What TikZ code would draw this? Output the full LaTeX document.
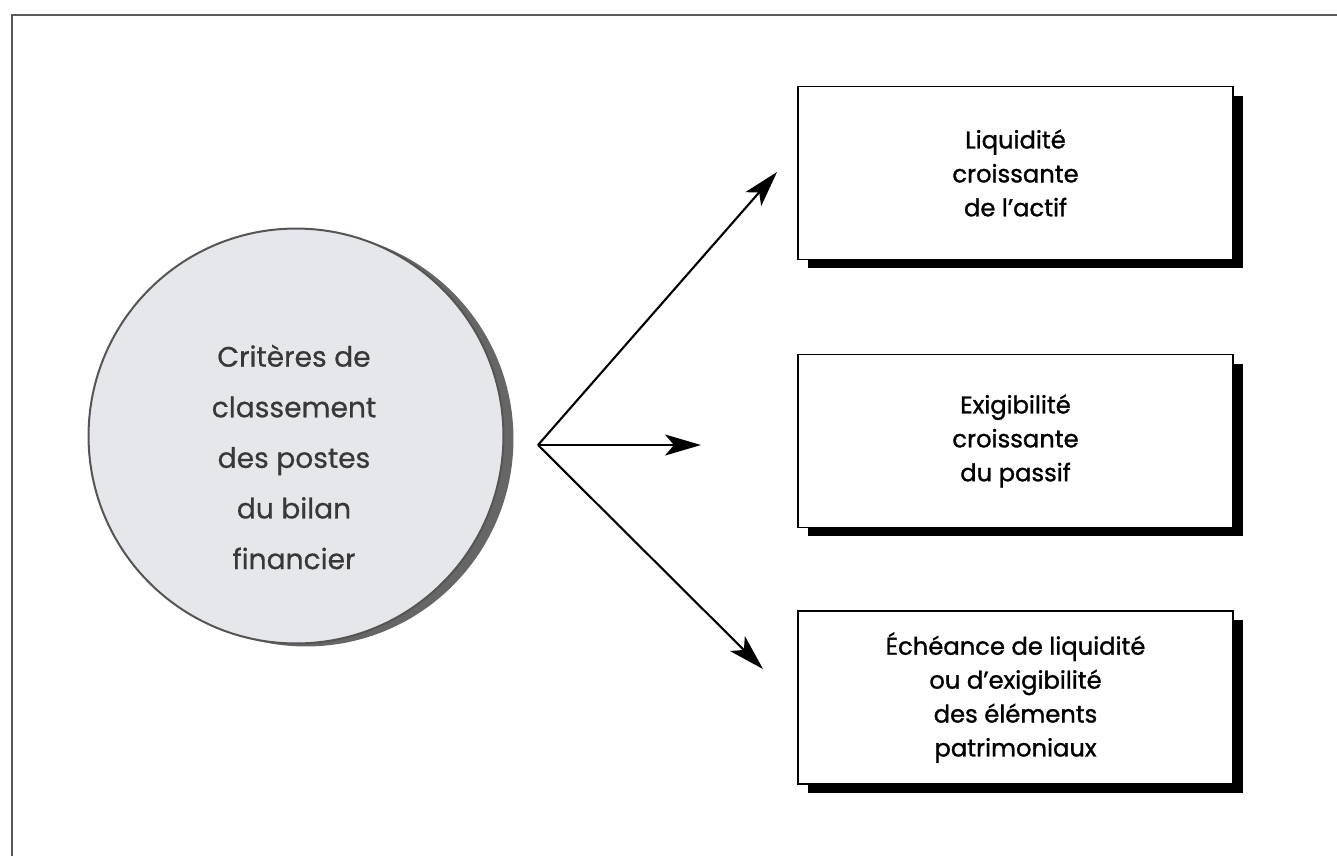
\documentclass[tikz,border=0pt]{standalone}
\usepackage{fontspec}
\setmainfont{Poppins}
\newfontfamily\boxfont{Poppins}[FakeBold=1.2]
\newfontfamily\circfont{Poppins}[FakeBold=0.6]
\usetikzlibrary{arrows.meta,shadows}
\definecolor{framegray}{HTML}{5A5A5A}
\definecolor{circfill}{HTML}{E5E7EA}
\definecolor{circline}{HTML}{555555}
\definecolor{circshadow}{HTML}{666666}
\definecolor{circtext}{HTML}{383838}
\tikzset{
  framel/.style={draw=framegray, line width=0.055cm},
  circ/.style={circle, minimum size=8.3cm, inner sep=0pt, fill=circfill, draw=circline, line width=0.04cm,
    drop shadow={shadow xshift=0.2cm, shadow yshift=-0.06cm, fill=circshadow, opacity=1}},
  circtxt/.style={align=center, text=circtext, font=\circfont\fontsize{16}{28.8}\selectfont, inner sep=0pt},
  catbox/.style={rectangle, draw=black, fill=white, line width=0.035cm, minimum width=8.7cm, minimum height=3.46cm,
    align=center, inner sep=0pt, font=\boxfont\fontsize{13.8}{19.3}\selectfont,
    drop shadow={shadow xshift=0.2cm, shadow yshift=-0.18cm, fill=black, opacity=1}},
  arr/.style={draw=black, line width=0.042cm, -{Stealth[length=0.72cm, width=0.42cm, inset=0.18cm]}}
}
\begin{document}
\begin{tikzpicture}[x=0.02cm, y=-0.02cm]
\useasboundingbox[fill=white] (0,0) rectangle (1337,856);
\draw[framel] (12,856) -- (12,15) -- (1337,15);
\node[circ] (crit) at (296,436) {};
\node[circtxt] (crittxt) at (294,457) {Critères de\\classement\\des postes\\du bilan\\financier};
\node[catbox] (liq) at (1015.5,173) {Liquidité\\croissante\\de l’actif};
\node[catbox] (exi) at (1015.5,441) {Exigibilité\\croissante\\du passif};
\node[catbox] (ech) at (1015.5,697.5) {Échéance de liquidité\\ou d’exigibilité\\des éléments\\patrimoniaux};
\coordinate (hub) at (538,445);
\coordinate (t1) at (777,172);
\coordinate (t2) at (701,445);
\coordinate (t3) at (763,669);
\draw[arr] (hub) -- (t1);
\draw[arr] (hub) -- (t2);
\draw[arr] (hub) -- (t3);
\end{tikzpicture}
\end{document}
